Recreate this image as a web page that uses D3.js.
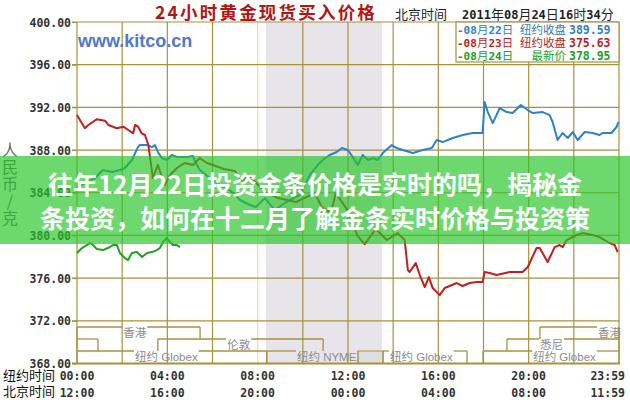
<!DOCTYPE html>
<html><head><meta charset="utf-8">
<script src="https://cdn.jsdelivr.net/npm/d3@7"></script>
<style>body{margin:0;background:#fff}svg{display:block}</style>
</head><body>
<svg id="c" width="630" height="400"></svg>
<script>
// ---------------- data ----------------
const yTicks = [368, 372, 376, 380, 384, 388, 392, 396, 400];
const gridHours = [0, 2, 4, 6, 8, 10, 12, 14, 16, 18, 20, 22, 24];
const labelHours = [0, 4, 8, 12, 16, 20, 24];
const nyLabels = ['00:00', '04:00', '08:00', '12:00', '16:00', '20:00', '23:59'];
const bjLabels = ['12:00', '16:00', '20:00', '00:00', '04:00', '08:00', '11:59'];

const blueHours = [0.00,0.35,0.80,1.15,1.55,1.90,2.12,2.43,2.70,2.79,3.10,3.32,3.45,3.58,3.76,3.98,4.20,4.42,4.87,5.13,5.31,5.44,5.89,6.33,6.82,7.22,7.66,7.92,8.32,8.76,9.20,9.87,10.31,10.66,10.88,11.19,11.50,11.73,11.99,12.21,12.43,12.65,12.88,13.10,13.32,13.54,13.94,14.16,14.42,14.87,15.31,15.71,15.93,16.19,16.64,17.08,17.52,17.96,18.05,18.19,18.41,18.72,19.03,19.29,19.65,19.96,20.18,20.62,20.93,21.06,21.28,21.50,21.73,21.95,22.17,22.48,22.83,23.14,23.27,23.67,23.89,23.98];
const bluePrices = [384.44,384.91,385.38,386.13,385.94,386.13,386.32,387.07,388.28,388.47,388.47,388.28,388.47,387.82,387.25,387.07,387.54,387.35,387.35,387.44,386.60,386.13,385.38,384.72,384.16,383.32,382.85,382.66,383.50,382.38,383.04,383.79,385.66,386.60,387.07,387.54,387.82,388.19,388.00,387.35,386.60,387.54,387.07,387.25,387.07,387.72,388.47,388.19,388.00,387.72,388.00,388.19,388.94,388.75,389.13,389.41,389.60,389.60,392.50,391.56,390.53,391.94,391.56,391.47,392.22,391.75,391.47,391.56,391.28,390.63,388.94,389.60,389.13,389.69,388.94,389.69,389.60,389.41,389.60,389.60,390.16,390.63];

const redHours = [0.00,0.35,0.50,0.87,1.24,1.39,1.76,2.05,2.27,2.49,2.57,2.71,2.86,3.01,3.16,3.23,3.36,3.58,3.89,4.12,4.42,4.78,5.13,5.44,5.75,6.02,6.50,6.99,7.30,7.61,8.27,8.89,9.69,10.53,10.84,11.24,11.46,11.95,12.43,12.74,13.23,13.72,14.20,14.51,14.65,14.73,15.00,15.18,15.40,15.58,15.75,16.06,16.28,16.50,16.81,17.08,17.39,17.70,17.96,18.05,18.27,18.58,19.16,19.47,19.73,19.96,20.35,20.49,20.84,21.15,21.37,21.51,21.68,22.12,22.39,22.83,23.14,23.58,23.81,23.94];
const redPrices = [391.28,390.04,390.35,390.88,390.75,390.35,390.04,390.19,389.88,389.57,390.35,390.19,389.57,389.41,388.47,387.38,385.38,386.60,384.72,385.66,386.32,386.79,386.60,387.25,386.79,386.60,386.22,386.04,385.00,385.66,384.16,383.50,383.13,383.97,382.66,382.10,383.97,382.47,379.94,379.19,380.60,379.57,380.22,379.57,376.76,376.57,377.41,376.29,375.16,376.10,375.07,374.41,375.07,375.26,375.54,375.26,375.54,375.63,375.63,376.57,376.48,376.29,376.57,376.57,376.57,377.04,378.82,378.82,377.51,378.91,379.10,378.91,379.57,380.04,380.22,380.04,379.85,379.29,379.10,378.44];

const greenHours = [0.00,0.22,0.58,0.71,0.88,1.15,1.37,1.59,1.77,1.90,2.12,2.26,2.43,2.65,2.88,3.10,3.32,3.54,3.67,3.81,3.98,4.12,4.25,4.42,4.56];
const greenPrices = [378.35,378.82,379.29,379.10,378.72,378.63,378.82,379.10,379.10,378.35,377.88,377.69,378.35,378.44,377.98,378.35,378.44,378.63,378.82,379.38,379.76,379.38,379.10,379.10,378.91];

const legendDates = ['-08月22日', '-08月23日', '-08月24日'];
const legendNames = ['纽约收盘', '纽约收盘', '最新价'];
const legendValues = ['389.59', '375.63', '378.95'];

const nymexBand = [8.37, 13.5];
const sessionNames = ['香港', '伦敦', '伦敦', '纽约 Globex', '纽约 NYMEX', '', '纽约 Globex', '纽约 Globex', '悉尼', '香港'];
const sessionRows  = [0, 1, 1, 2, 2, 2, 2, 2, 1, 0];
const sessionStart = [0, 0, 3.58, 0, 8.4, 12.45, 13.55, 17.98, 19.04, 20.5];
const sessionEnd   = [5.45, 0.93, 10.9, 8.4, 12.45, 13.55, 17.27, 24, 24, 24];
const sessionLabelAt = [2.05, null, 6.65, 2.57, 9.74, null, 13.86, 20.2, 20.5, 23.07];

const yTitleChars = ['人', '民', '币', '/', '克'];
const chartTitle = '24小时黄金现货买入价格';
const stampLabel = '北京时间';
const stampText = '2011年08月24日16时34分';
const watermark = 'www.kitco.cn';
const bannerLines = ['往年12月22日投资金条价格是实时的吗，揭秘金', '条投资，如何在十二月了解金条实时价格与投资策'];

// ---------------- layout / style ----------------
const L = 77, R = 619, T = 22, B = 363.5;
const gridColor = '#a8913c';
const colors = ['#2f80c8', '#c41e1e', '#22a022'];
const mono = '"DejaVu Sans Mono", monospace';
const cjk = '"Noto Sans CJK SC", sans-serif';

const svg = d3.select('#c');
const x = d3.scaleLinear().domain([0, 24]).range([L, R]);
const y = d3.scaleLinear().domain([368, 400]).range([B, T]);

function mixed(sel, str, asciiAttrs, cjkAttrs) {
  (str.match(/[\x00-\x7f]+|[^\x00-\x7f]+/g) || []).forEach(r => {
    const t = sel.append('tspan').text(r);
    const a = /^[\x00-\x7f]+$/.test(r) ? asciiAttrs : cjkAttrs;
    Object.entries(a).forEach(([k, v]) => t.attr(k, v));
  });
}

// gray NYMEX band
svg.append('rect').attr('x', x(nymexBand[0])).attr('y', T)
  .attr('width', x(nymexBand[1]) - x(nymexBand[0])).attr('height', B - T)
  .attr('fill', '#e7e5ea');

// grid
svg.append('g').selectAll('line').data(gridHours).join('line')
  .attr('x1', d => x(d)).attr('x2', d => x(d)).attr('y1', T).attr('y2', B)
  .attr('stroke', d => d === 8 ? '#f0dc98' : gridColor).attr('stroke-width', 1.2);
svg.append('g').selectAll('line').data(yTicks).join('line')
  .attr('x1', L - 5).attr('x2', R).attr('y1', d => y(d)).attr('y2', d => y(d))
  .attr('stroke', gridColor).attr('stroke-width', 1.2);
svg.append('line').attr('x1', L - 5).attr('x2', R + 1).attr('y1', B).attr('y2', B)
  .attr('stroke', gridColor).attr('stroke-width', 2.2);

// y axis labels
const yAxis = svg.append('g').attr('transform', `translate(${L},0)`)
  .call(d3.axisLeft(y).tickValues(yTicks).tickFormat(d3.format('.2f')).tickSize(5).tickPadding(1));
yAxis.select('.domain').remove();
yAxis.selectAll('line').attr('stroke', gridColor);
yAxis.selectAll('text').attr('font-family', mono).attr('font-weight', 'bold')
  .attr('font-size', 11.5).attr('fill', '#333').attr('dy', '0.35em');

// sessions
const rowTop = [327, 339, 351], rowH = 12;
const sess = svg.append('g');
sessionNames.forEach((name, i) => {
  const r = sessionRows[i], x0 = x(sessionStart[i]), x1 = x(sessionEnd[i]);
  const yt = rowTop[r], yb = yt + rowH;
  if (!name) {
    sess.append('rect').attr('x', x0).attr('y', yt).attr('width', x1 - x0).attr('height', rowH)
      .attr('fill', '#dedde0').attr('stroke', gridColor).attr('stroke-width', 1);
    return;
  }
  let segs = [[x0, x1]];
  if (sessionLabelAt[i] != null) {
    const lx = x(sessionLabelAt[i]);
    const t = sess.append('text').attr('x', lx).attr('y', yt + 10).attr('fill', '#8c8c8c')
      .attr('font-family', cjk).attr('font-size', 11.5);
    mixed(t, name, {'font-family': '"Liberation Sans", sans-serif'}, {});
    const w = t.node().getComputedTextLength();
    segs = [[x0, lx - 1], [lx + w + 1, x1]];
  }
  segs.forEach(s => { if (s[1] > s[0]) sess.append('line').attr('x1', s[0]).attr('x2', s[1])
    .attr('y1', yt).attr('y2', yt).attr('stroke', gridColor).attr('stroke-width', 1.3); });
  [x0, x1].forEach(xx => sess.append('line').attr('x1', xx).attr('x2', xx).attr('y1', yt).attr('y2', yb)
    .attr('stroke', gridColor).attr('stroke-width', 1.3));
});

// watermark
svg.append('text').attr('x', 78).attr('y', 47).text(watermark)
  .attr('font-family', '"Liberation Sans", Arial, sans-serif').attr('font-weight', 'bold')
  .attr('font-size', 18).attr('fill', '#5078cc');

// legend
svg.append('rect').attr('x', 456).attr('y', T).attr('width', R - 456).attr('height', 40)
  .attr('fill', '#fff').attr('stroke', gridColor).attr('stroke-width', 1.2);
legendDates.forEach((d, i) => {
  const yy = 34 + i * 13;
  const t1 = svg.append('text').attr('x', 457).attr('y', yy).attr('fill', colors[i]);
  mixed(t1, d, {'font-family': mono, 'font-weight': 'bold', 'font-size': 11}, {'font-family': cjk, 'font-size': 11.5});
  svg.append('text').attr('x', 566).attr('y', yy).attr('text-anchor', 'end').attr('fill', colors[i])
    .attr('font-family', cjk).attr('font-size', 11.5).text(legendNames[i]);
  svg.append('text').attr('x', 569).attr('y', yy).attr('fill', colors[i])
    .attr('font-family', mono).attr('font-weight', 'bold').attr('font-size', 11.5).text(legendValues[i]);
});

// series lines
const line = d3.line().x(d => x(d[0])).y(d => y(d[1]));
const series = [
  d3.zip(blueHours, bluePrices),
  d3.zip(redHours, redPrices),
  d3.zip(greenHours, greenPrices)
];
series.forEach((s, i) => {
  svg.append('path').datum(s).attr('d', line).attr('fill', 'none')
    .attr('stroke', colors[i]).attr('stroke-width', 2).attr('stroke-linejoin', 'round');
});

// title + timestamp
svg.append('text').attr('x', 155).attr('y', 19).text(chartTitle)
  .attr('font-family', cjk).attr('font-weight', 'bold').attr('font-size', 17.5)
  .attr('letter-spacing', 2.2).attr('fill', '#b41414');
svg.append('text').attr('x', 395).attr('y', 19).text(stampLabel)
  .attr('font-family', cjk).attr('font-size', 13).attr('fill', '#222');
const st = svg.append('text').attr('x', 462).attr('y', 19).attr('fill', '#222');
mixed(st, stampText, {'font-family': mono, 'font-weight': 'bold', 'font-size': 12}, {'font-family': cjk, 'font-size': 13});

// y title
svg.append('g').selectAll('text').data(yTitleChars).join('text')
  .attr('x', 10).attr('y', (d, i) => 156 + i * 17).attr('text-anchor', 'middle')
  .attr('font-family', cjk).attr('font-size', 16).attr('fill', '#666').text(d => d);

// x labels
const xl = svg.append('g');
xl.append('text').attr('x', 3).attr('y', 380).text('纽约时间')
  .attr('font-family', cjk).attr('font-size', 13).attr('fill', '#111');
xl.append('text').attr('x', 3).attr('y', 396).text('北京时间')
  .attr('font-family', cjk).attr('font-size', 13).attr('fill', '#111');
[[nyLabels, 380], [bjLabels, 396.5]].forEach(([labs, yy]) => {
  xl.selectAll(null).data(labelHours).join('text')
    .attr('x', (d, i) => i === labelHours.length - 1 ? 625 : x(d))
    .attr('text-anchor', (d, i) => i === labelHours.length - 1 ? 'end' : 'middle')
    .attr('y', yy).attr('font-family', mono).attr('font-weight', 'bold')
    .attr('font-size', 11.5).attr('fill', '#333').text((d, i) => labs[i]);
});

// overlay banner
svg.append('rect').attr('x', 0).attr('y', 156).attr('width', 630).attr('height', 88)
  .attr('fill', 'rgb(40,198,40)').attr('fill-opacity', 0.68);
svg.append('g').selectAll('text').data(bannerLines).join('text')
  .attr('x', 315).attr('y', (d, i) => 194 + i * 34).attr('text-anchor', 'middle')
  .attr('font-family', cjk).attr('font-weight', 'bold').attr('font-size', 25)
  .attr('fill', '#fff').text(d => d);
</script></body></html>
